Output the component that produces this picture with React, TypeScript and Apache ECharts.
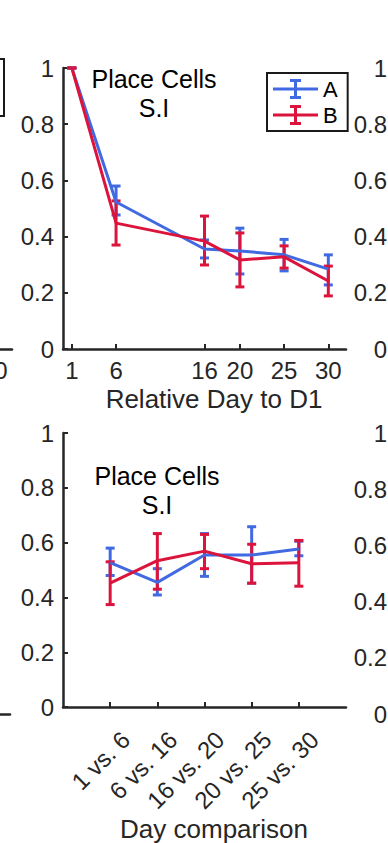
import React, { useEffect, useRef } from "react";
import * as echarts from "echarts";

// ---------- data ----------
const dayTicks = [1, 6, 16, 20, 25, 30];
const days = [1, 6, 16, 20, 25, 30];
const aDayMean = [1, 0.523, 0.356, 0.349, 0.335, 0.284];
const aDayLow = [1, 0.477, 0.324, 0.267, 0.278, 0.228];
const aDayHigh = [1, 0.58, 0.388, 0.43, 0.39, 0.335];
const bDayMean = [1, 0.448, 0.384, 0.317, 0.328, 0.242];
const bDayLow = [1, 0.37, 0.299, 0.221, 0.288, 0.189];
const bDayHigh = [1, 0.527, 0.473, 0.413, 0.367, 0.295];

const comparisons = ["1 vs. 6", "6 vs. 16", "16 vs. 20", "20 vs. 25", "25 vs. 30"];
const compPos = [1, 2, 3, 4, 5];
const aCmpMean = [0.527, 0.455, 0.555, 0.555, 0.577];
const aCmpLow = [0.48, 0.409, 0.477, 0.452, 0.552];
const aCmpHigh = [0.58, 0.505, 0.633, 0.658, 0.605];
const bCmpMean = [0.452, 0.534, 0.569, 0.523, 0.527];
const bCmpLow = [0.374, 0.43, 0.505, 0.452, 0.441];
const bCmpHigh = [0.53, 0.633, 0.63, 0.594, 0.608];

const yTicks = [0, 0.2, 0.4, 0.6, 0.8, 1];
const seriesNames = ["A", "B"];
const titleLines = ["Place Cells", "S.I"];

// ---------- styles ----------
const BLUE = "#4169E1";
const RED = "#DC143C";
const AX = "#262626";
const FONT = "'Liberation Sans', Arial, Helvetica, sans-serif";
const LEGEND_ICON =
  "path://M0,8.5h45v3h-45z M21,1.5h3v17h-3z M17,0h11v3h-11z M17,17h11v3h-11z";
// the canvas is wider than the page so that neighbouring panels can be cut by the page edges
const OX = 300;
const PAGE_W = 388;
const PAGE_H = 843;

function errRender(color: string) {
  return (params: any, api: any) => {
    const x = api.value(0);
    const lo = api.coord([x, api.value(1)]);
    const hi = api.coord([x, api.value(2)]);
    const hw = 4.5;
    const style = { stroke: color, lineWidth: 3 };
    return {
      type: "group",
      children: [
        { type: "line", shape: { x1: lo[0], y1: lo[1], x2: hi[0], y2: hi[1] }, style },
        { type: "line", shape: { x1: hi[0] - hw, y1: hi[1], x2: hi[0] + hw, y2: hi[1] }, style },
        { type: "line", shape: { x1: lo[0] - hw, y1: lo[1], x2: lo[0] + hw, y2: lo[1] }, style },
      ],
    };
  };
}

const axisLineStyle = { show: true, lineStyle: { color: AX, width: 2.5 } };
const tickStyle = { show: true, inside: true, length: 5, lineStyle: { color: AX, width: 2 } };
const labelBase = { color: AX, fontSize: 24, fontFamily: FONT };
const nameStyle = { color: AX, fontSize: 26, fontFamily: FONT, padding: [0, 0, 0, 19] };

function yAxisMain(gridIndex: number) {
  return {
    type: "value",
    gridIndex,
    min: 0,
    max: 1,
    interval: 0.2,
    axisLine: axisLineStyle,
    axisTick: tickStyle,
    splitLine: { show: false },
    axisLabel: { ...labelBase, margin: 9, customValues: yTicks },
  };
}

function topXAxis(gridIndex: number, withName: boolean) {
  return {
    type: "value",
    gridIndex,
    min: 0,
    max: 32,
    axisLine: axisLineStyle,
    axisTick: { ...tickStyle, customValues: dayTicks },
    splitLine: { show: false },
    axisLabel: { ...labelBase, margin: 9, customValues: dayTicks },
    name: withName ? "Relative Day to D1" : "",
    nameLocation: "middle",
    nameGap: 37,
    nameTextStyle: nameStyle,
  };
}

function bottomXAxis(gridIndex: number, withName: boolean) {
  return {
    type: "value",
    gridIndex,
    min: 0,
    max: 6,
    axisLine: axisLineStyle,
    axisTick: { ...tickStyle, customValues: compPos },
    splitLine: { show: false },
    axisLabel: {
      ...labelBase,
      customValues: compPos,
      rotate: 45,
      align: "right",
      verticalAlign: "top",
      margin: 13,
      padding: [10, 0, 0, 0],
      formatter: (v: number) => comparisons[Math.round(v) - 1] ?? "",
    },
    name: withName ? "Day comparison" : "",
    nameLocation: "middle",
    nameGap: 97,
    nameTextStyle: nameStyle,
  };
}

function hiddenAxis(gridIndex: number) {
  return { type: "value", gridIndex, min: 0, max: 1, show: false };
}

function zip2(xs: number[], ys: number[]) {
  return xs.map((x, i) => [x, ys[i]]);
}
function zip3(xs: number[], lo: number[], hi: number[]) {
  return xs.map((x, i) => [x, lo[i], hi[i]]);
}

function lineSeries(name: string, color: string, axis: number, data: number[][]) {
  return {
    type: "line",
    name,
    xAxisIndex: axis,
    yAxisIndex: axis,
    data,
    symbol: "none",
    lineStyle: { color, width: 3 },
    itemStyle: { color },
    z: 3,
  };
}
function errSeries(name: string, color: string, axis: number, data: number[][]) {
  return {
    type: "custom",
    name,
    xAxisIndex: axis,
    yAxisIndex: axis,
    data,
    renderItem: errRender(color),
    itemStyle: { color },
    encode: { x: 0, y: [1, 2] },
    z: 3,
  };
}

export default function App() {
  const ref = useRef<HTMLDivElement>(null);
  useEffect(() => {
    document.body.style.margin = "0";
    if (!ref.current) return;
    const chart = echarts.init(ref.current, undefined, { renderer: "svg" });
    const gridW = 283;
    const gridH = 281;
    const titleStyle = {
      text: titleLines.join("\n"),
      align: "center",
      verticalAlign: "top",
      fill: "#000",
      fontSize: 25,
      lineHeight: 29,
      fontFamily: FONT,
    };
    const option: any = {
      animation: false,
      backgroundColor: "#ffffff",
      grid: [
        { left: OX + 63, top: 68, width: gridW, height: gridH },
        { left: OX + 63, top: 433, width: gridW, height: gridH },
        { left: OX + 396, top: 68, width: gridW, height: gridH },
        { left: OX + 396, top: 433, width: gridW, height: gridH },
        { left: OX + 12 - gridW, top: 68, width: gridW, height: gridH },
        { left: OX + 10 - gridW, top: 433, width: gridW, height: gridH },
      ],
      xAxis: [
        topXAxis(0, true),
        bottomXAxis(1, true),
        hiddenAxis(2),
        hiddenAxis(3),
        topXAxis(4, false),
        bottomXAxis(5, false),
      ],
      yAxis: [
        yAxisMain(0),
        yAxisMain(1),
        yAxisMain(2),
        yAxisMain(3),
        hiddenAxis(4),
        hiddenAxis(5),
      ],
      legend: {
        orient: "vertical",
        left: OX + 267,
        top: 73,
        padding: [5, 10, 5, 6],
        itemWidth: 45,
        itemHeight: 20,
        itemGap: 4,
        borderColor: "#1a1a1a",
        borderWidth: 2,
        backgroundColor: "#ffffff",
        selectedMode: false,
        textStyle: { color: "#000", fontSize: 22, fontFamily: FONT },
        data: seriesNames.map((n) => ({ name: n, icon: LEGEND_ICON })),
      },
      graphic: [
        { type: "text", x: OX + 154, y: 64, style: titleStyle },
        { type: "text", x: OX + 157, y: 461, style: titleStyle },
        {
          type: "rect",
          shape: { x: OX - 80, y: 59, width: 84, height: 57 },
          style: { fill: "none", stroke: "#1a1a1a", lineWidth: 2 },
        },
      ],
      series: [
        lineSeries(seriesNames[0], BLUE, 0, zip2(days, aDayMean)),
        errSeries(seriesNames[0], BLUE, 0, zip3(days, aDayLow, aDayHigh)),
        lineSeries(seriesNames[1], RED, 0, zip2(days, bDayMean)),
        errSeries(seriesNames[1], RED, 0, zip3(days, bDayLow, bDayHigh)),
        lineSeries(seriesNames[0], BLUE, 1, zip2(compPos, aCmpMean)),
        errSeries(seriesNames[0], BLUE, 1, zip3(compPos, aCmpLow, aCmpHigh)),
        lineSeries(seriesNames[1], RED, 1, zip2(compPos, bCmpMean)),
        errSeries(seriesNames[1], RED, 1, zip3(compPos, bCmpLow, bCmpHigh)),
      ],
    };
    chart.setOption(option);
    return () => chart.dispose();
  }, []);
  return (
    <div style={{ width: PAGE_W, height: PAGE_H, overflow: "hidden", position: "relative" }}>
      <div ref={ref} style={{ width: PAGE_W + 2 * OX, height: PAGE_H, marginLeft: -OX }} />
    </div>
  );
}
